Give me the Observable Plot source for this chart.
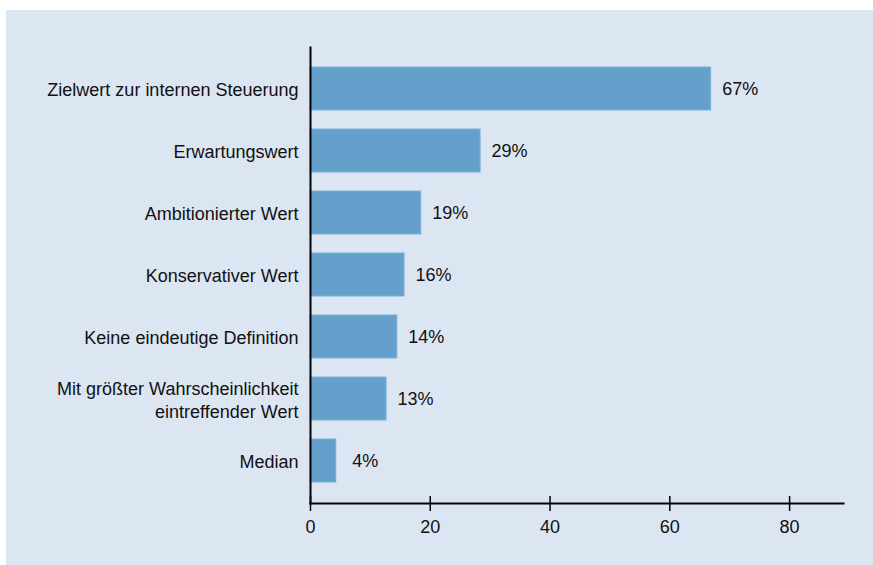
<!DOCTYPE html>
<html>
<head>
<meta charset="utf-8">
<script src="https://cdn.jsdelivr.net/npm/d3@7"></script>
<script src="https://cdn.jsdelivr.net/npm/@observablehq/plot@0.6"></script>
<style>
  html, body { margin: 0; padding: 0; background: #ffffff; }
  #panel { position: absolute; left: 6px; top: 10px; width: 867px; height: 555px; background: #dce6f2; }
</style>
</head>
<body>
<div id="panel"></div>
<script>
const categories = [
  "Zielwert zur internen Steuerung",
  "Erwartungswert",
  "Ambitionierter Wert",
  "Konservativer Wert",
  "Keine eindeutige Definition",
  "Mit größter Wahrscheinlichkeit\neintreffender Wert",
  "Median"
];
const values = [66.9, 28.4, 18.5, 15.7, 14.5, 12.7, 4.3];
const valueLabels = ["67%", "29%", "19%", "16%", "14%", "13%", "4%"];
const xTicks = [0, 20, 40, 60, 80];

const data = categories.map((c, i) => ({cat: c, value: values[i], label: valueLabels[i]}));

const font = "'Liberation Sans', Arial, Helvetica, sans-serif";
const ink = "#111111";

const chart = Plot.plot({
  width: 867,
  height: 555,
  marginLeft: 304,
  marginRight: 30,
  marginTop: 37,
  marginBottom: 62,
  style: {background: "transparent", fontFamily: font, fontSize: "18px", color: ink},
  x: {domain: [0, 89], ticks: xTicks, label: null},
  y: {domain: categories, padding: 0.3, label: null},
  marks: [
    Plot.barX(data, {x: "value", y: "cat", fill: "#64a0cb", stroke: "#7db0d7", strokeWidth: 1}),
    Plot.text(data, {x: "value", y: "cat", text: "label", textAnchor: "middle", dx: 29, fontSize: 18, fill: ink}),
    Plot.axisY({tickSize: 0, tickPadding: 12, fontSize: 18, lineHeight: 1.26, fill: ink, label: null}),
    Plot.axisX({ticks: xTicks, tickSize: 15, dy: -7, tickFormat: () => "", stroke: "#000", strokeWidth: 1.5, label: null}),
    Plot.axisX({ticks: xTicks, tickSize: 0, tickPadding: 17, fontSize: 18, fill: ink, label: null}),
    Plot.frame({anchor: "left", stroke: "#000", strokeWidth: 2}),
    Plot.frame({anchor: "bottom", stroke: "#000", strokeWidth: 2})
  ]
});
document.getElementById("panel").appendChild(chart);
</script>
</body>
</html>
